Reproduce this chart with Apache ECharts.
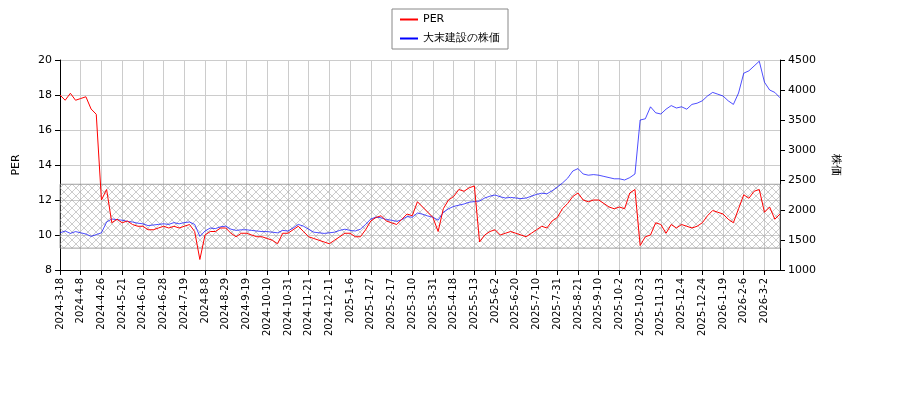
<!DOCTYPE html><html><head><meta charset="utf-8"><script src="https://cdn.jsdelivr.net/npm/echarts@6/dist/echarts.min.js"></script></head><body style="margin:0"><div id="c" style="width:900px;height:400px"></div><script>
const tickLabels=['2024-3-18','2024-4-8','2024-4-26','2024-5-21','2024-6-10','2024-6-28','2024-7-19','2024-8-8','2024-8-29','2024-9-19','2024-10-10','2024-10-31','2024-11-21','2024-12-11','2025-1-6','2025-1-27','2025-2-17','2025-3-10','2025-3-31','2025-4-18','2025-5-13','2025-6-2','2025-6-20','2025-7-10','2025-7-31','2025-8-21','2025-9-10','2025-10-2','2025-10-23','2025-11-13','2025-12-4','2025-12-24','2026-1-19','2026-2-6','2026-3-2'];
const per=[18.0,17.7,18.1,17.7, 17.8,17.9,17.2,16.9, 12.0,12.6,10.7,10.9, 10.7,10.8,10.6,10.5, 10.5,10.3,10.3,10.4, 10.5,10.4,10.5,10.4, 10.5,10.6,10.2,8.6, 10.0,10.2,10.2,10.4, 10.4,10.1,9.9,10.1, 10.1,10.0,9.9,9.9, 9.8,9.7,9.5,10.1, 10.1,10.3,10.5,10.2, 9.9,9.8,9.7,9.6, 9.5,9.7,9.9,10.1, 10.1,9.9,9.9,10.3, 10.8,11.0,11.1,10.8, 10.7,10.6,10.9,11.2, 11.1,11.9,11.6,11.3, 11.0,10.2,11.5,12.0, 12.2,12.6,12.5,12.7, 12.8,9.6,10.0,10.2, 10.3,10.0,10.1,10.2, 10.1,10.0,9.9,10.1, 10.3,10.5,10.4,10.8, 11.0,11.5,11.8,12.2, 12.4,12.0,11.9,12.0, 12.0,11.8,11.6,11.5, 11.6,11.5,12.4,12.6, 9.4,9.9,10.0,10.7, 10.6,10.1,10.6,10.4, 10.6,10.5,10.4,10.5, 10.7,11.1,11.4,11.3, 11.2,10.9,10.7,11.5, 12.3,12.1,12.5,12.6, 11.3,11.6,10.9,11.2];
const price=[1620,1650,1610,1640, 1620,1600,1560,1590, 1620,1800,1850,1840, 1830,1810,1800,1780, 1770,1740,1750,1760, 1770,1760,1790,1770, 1790,1800,1760,1560, 1650,1700,1690,1720, 1730,1680,1660,1670, 1670,1660,1650,1640, 1640,1630,1620,1660, 1650,1700,1760,1730, 1680,1630,1620,1610, 1620,1630,1660,1680, 1660,1650,1680,1760, 1850,1880,1870,1840, 1830,1810,1840,1890, 1880,1950,1930,1900, 1880,1830,1960,2020, 2060,2080,2100,2130, 2140,2150,2200,2230, 2250,2220,2200,2210, 2200,2190,2200,2230, 2260,2280,2270,2320, 2380,2450,2530,2650, 2690,2600,2580,2590, 2580,2560,2540,2520, 2520,2500,2540,2600, 3500,3520,3720,3620, 3600,3680,3740,3700, 3720,3680,3760,3780, 3820,3900,3960,3930, 3900,3820,3760,3950, 4280,4320,4400,4480, 4130,4000,3960,3870];
const cats=[];tickLabels.forEach((t,i)=>{cats.push(t);if(i<tickLabels.length-1){for(let k=1;k<4;k++)cats.push(t+'+'+k);}});for(let k=1;k<4;k++)cats.push(tickLabels[tickLabels.length-1]+'+'+k);
const cv=document.createElement('canvas');cv.width=8;cv.height=8;const g=cv.getContext('2d');g.strokeStyle='#aaa';g.lineWidth=0.6;g.beginPath();g.moveTo(0,0);g.lineTo(8,8);g.moveTo(8,0);g.lineTo(0,8);g.stroke();
const isTick=(i,v)=>v.indexOf('+')<0;
const ch=echarts.init(document.getElementById('c'));
ch.setOption({animation:false,textStyle:{fontFamily:'DejaVu Sans'},
legend:{top:9,left:'center',orient:'vertical',itemWidth:18,itemHeight:2,borderColor:'#888',borderWidth:1,borderRadius:0,padding:[5,8],textStyle:{fontSize:11,color:'#000'},data:[{name:'PER',icon:'rect'},{name:'大末建設の株価',icon:'rect'}]},
grid:{left:60,right:120,top:60,bottom:130},
xAxis:{type:'category',data:cats,boundaryGap:false,axisLine:{lineStyle:{color:'#000'}},axisTick:{interval:isTick,lineStyle:{color:'#000'}},splitLine:{show:true,interval:isTick,lineStyle:{color:'#ccc'}},axisLabel:{interval:isTick,rotate:90,fontSize:10,color:'#000'}},
yAxis:[{type:'value',min:8,max:20,interval:2,name:'PER',nameLocation:'middle',nameGap:38,nameTextStyle:{fontSize:11,color:'#000'},axisLine:{show:true,lineStyle:{color:'#000'}},axisTick:{show:true},axisLabel:{fontSize:11,color:'#000'},splitLine:{lineStyle:{color:'#ccc'}}},
{type:'value',min:1000,max:4500,interval:500,name:'株価',nameLocation:'middle',nameGap:50,nameRotate:-90,nameTextStyle:{fontSize:11,color:'#000'},axisLine:{show:true,lineStyle:{color:'#000'}},axisTick:{show:true},axisLabel:{fontSize:11,color:'#000',formatter:v=>String(v)},splitLine:{show:false}}],
series:[{name:'PER',type:'line',data:per,symbol:'none',lineStyle:{color:'#f00',width:1},itemStyle:{color:'#f00'},z:3,
markArea:{silent:true,itemStyle:{color:{image:cv,repeat:'repeat'},borderColor:'#888',borderWidth:0.8},data:[[{yAxis:12.9},{yAxis:9.25}]]}},
{name:'大末建設の株価',type:'line',yAxisIndex:1,data:price,symbol:'none',lineStyle:{color:'#00f',width:0.7},itemStyle:{color:'#00f'},z:2}]});
</script></body></html>
